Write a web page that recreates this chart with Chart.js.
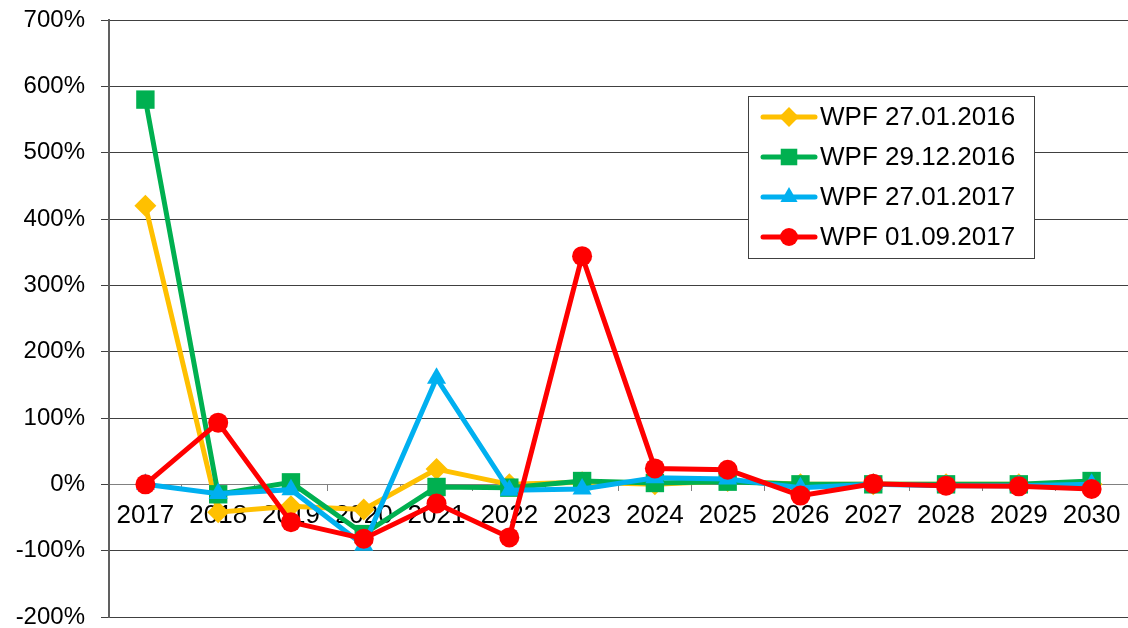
<!DOCTYPE html>
<html>
<head>
<meta charset="utf-8">
<script src="https://cdn.jsdelivr.net/npm/chart.js@4"></script>
<style>
html,body{margin:0;padding:0;background:#fff;}
#wrap{width:1128px;height:628px;position:relative;}
</style>
</head>
<body>
<div id="wrap"><canvas id="c" width="1128" height="628"></canvas></div>
<script>
const years = ['2017','2018','2019','2020','2021','2022','2023','2024','2025','2026','2027','2028','2029','2030'];
const wpf_27_01_2016 = [420, -42, -33, -38, 23, 0, 3, 0, 5, 0, 0, 0, 0, 0];
const wpf_29_12_2016 = [580, -15, 3, -75, -4, -5, 5, 2, 4, 0, 0, 0, 0, 5];
const wpf_27_01_2017 = [0, -14, -8, -92, 160, -9, -7, 10, 8, -5, 0, -2, -2, 0];
const wpf_01_09_2017 = [0, 93, -57, -82, -29, -80, 344, 24, 22, -17, 1, -2, -3, -7];
const seriesLabels = ['WPF 27.01.2016','WPF 29.12.2016','WPF 27.01.2017','WPF 01.09.2017'];
const yTicks = [-200,-100,0,100,200,300,400,500,600,700];

const FONT = '"Liberation Sans", Arial, sans-serif';

function ds(label, data, color, style, radius, order){
  return {label, data, borderColor: color, backgroundColor: color, borderWidth: 5,
    pointStyle: style, pointRadius: radius, pointHoverRadius: radius, pointBorderWidth: 0,
    tension: 0, order, clip: false};
}

const legendPlugin = {
  id: 'boxLegend',
  afterDraw(chart){
    const ctx = chart.ctx;
    const x0 = 748, y0 = 96, w = 286, h = 162;
    ctx.save();
    ctx.fillStyle = '#fff';
    ctx.fillRect(x0, y0, w, h);
    ctx.strokeStyle = '#404040';
    ctx.lineWidth = 1;
    ctx.strokeRect(x0+0.5, y0+0.5, w, h);
    chart.data.datasets.forEach((d, i) => {
      const cy = y0 + 21 + i*40;
      ctx.strokeStyle = d.borderColor;
      ctx.lineWidth = 5;
      ctx.lineCap = 'round';
      ctx.beginPath(); ctx.moveTo(763, cy); ctx.lineTo(815, cy); ctx.stroke();
      ctx.fillStyle = d.backgroundColor;
      Chart.helpers.drawPoint(ctx, {pointStyle: d.pointStyle, radius: d.pointRadius*0.9, borderWidth: 0, rotation: 0}, 789, cy);
      ctx.fillStyle = '#000';
      ctx.font = '26px ' + FONT;
      ctx.textBaseline = 'middle';
      ctx.textAlign = 'left';
      ctx.fillText(d.label, 820, cy + 1);
    });
    ctx.restore();
  }
};

new Chart(document.getElementById('c'), {
  type: 'line',
  data: {
    labels: years,
    datasets: [
      ds(seriesLabels[0], wpf_27_01_2016, '#FFC000', 'rectRot', 11, 3),
      ds(seriesLabels[1], wpf_29_12_2016, '#00B050', 'rect', 13, 2),
      ds(seriesLabels[2], wpf_27_01_2017, '#00B0F0', 'triangle', 11, 1),
      ds(seriesLabels[3], wpf_01_09_2017, '#FF0000', 'circle', 10, 0)
    ]
  },
  options: {
    responsive: false,
    animation: false,
    events: [],
    layout: {autoPadding: false, padding: {top: 20, right: 0, bottom: 11, left: 0}},
    plugins: {legend: {display: false}, tooltip: {enabled: false}},
    scales: {
      x: {
        position: {y: 0},
        offset: true,
        afterFit: (s) => { s.paddingLeft = 0; s.paddingRight = 0; s.paddingTop = 0; s.paddingBottom = 0; },
        grid: {display: true, drawOnChartArea: false, drawTicks: true, tickLength: 6, offset: true, color: '#808080'},
        border: {display: true, color: '#808080', width: 1},
        ticks: {color: '#000', font: {family: FONT, size: 26}, padding: 10, maxRotation: 0, autoSkip: false}
      },
      y: {
        min: -200, max: 700,
        afterBuildTicks: (s) => { s.ticks = yTicks.map(v => ({value: v})); },
        afterFit: (s) => { s.width = 109; s.paddingTop = 0; s.paddingBottom = 0; s.paddingLeft = 0; s.paddingRight = 0; },
        grid: {color: '#404040', lineWidth: 1, tickLength: 8, drawTicks: true},
        border: {display: true, color: '#606060', width: 2},
        ticks: {color: '#000', font: {family: FONT, size: 24}, padding: 16, callback: (v) => v + '%'}
      }
    }
  },
  plugins: [legendPlugin]
});
</script>
</body>
</html>
